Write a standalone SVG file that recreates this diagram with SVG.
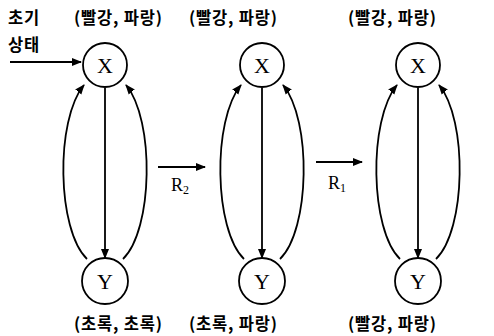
<svg xmlns="http://www.w3.org/2000/svg" width="494" height="336" viewBox="0 0 494 336">
<defs>
<style>
.node circle{fill:#fff;stroke:#000;stroke-width:1.8}
.node text{font-family:"Liberation Serif",serif;font-size:22px;text-anchor:middle}
.lbl{font-family:"Noto Sans CJK KR",sans-serif;font-size:16.5px;font-weight:bold;letter-spacing:0.8px}
.edge{fill:none;stroke:#000;stroke-width:1.8}
.rl{font-family:"Liberation Serif",serif;font-size:18px}
</style>
<marker id="ah" viewBox="0 0 10 10" refX="9" refY="5" markerWidth="10" markerHeight="10" markerUnits="userSpaceOnUse" orient="auto">
<path d="M0,1 L10,5 L0,9 Z" fill="#000"/>
</marker>
</defs>
<rect width="494" height="336" fill="#fff"/>
<g id="labels">
<text class="lbl" x="8" y="24">초기</text>
<text class="lbl" x="8" y="51">상태</text>
<text class="lbl" x="74" y="24">(빨강, 파랑)</text>
<text class="lbl" x="189" y="24">(빨강, 파랑)</text>
<text class="lbl" x="348" y="24">(빨강, 파랑)</text>
<text class="lbl" x="74" y="330">(초록, 초록)</text>
<text class="lbl" x="189" y="330">(초록, 파랑)</text>
<text class="lbl" x="348" y="330">(빨강, 파랑)</text>
<text class="rl" x="171" y="191">R<tspan font-size="12" dy="3">2</tspan></text>
<text class="rl" x="328" y="189">R<tspan font-size="12" dy="3">1</tspan></text>
</g>
<g id="connectors">
<path class="edge" d="M10,62 L81,62" marker-end="url(#ah)"/>
<path class="edge" d="M158,167 L205,167" marker-end="url(#ah)"/>
<path class="edge" d="M316,162 L362,162" marker-end="url(#ah)"/>
<path class="edge" d="M105,88 L105,258" marker-end="url(#ah)"/>
<path class="edge" d="M87,259 C57,230 55,120 84,85" marker-end="url(#ah)"/>
<path class="edge" d="M123,259 C153,230 155,120 126,85" marker-end="url(#ah)"/>
<path class="edge" d="M262,88 L262,258" marker-end="url(#ah)"/>
<path class="edge" d="M244,259 C214,230 212,120 241,85" marker-end="url(#ah)"/>
<path class="edge" d="M280,259 C310,230 312,120 283,85" marker-end="url(#ah)"/>
<path class="edge" d="M418,88 L418,258" marker-end="url(#ah)"/>
<path class="edge" d="M400,259 C370,230 368,120 397,85" marker-end="url(#ah)"/>
<path class="edge" d="M436,259 C466,230 468,120 439,85" marker-end="url(#ah)"/>
</g>
<g id="X1" class="node"><circle cx="105" cy="65" r="22"/><text x="105" y="73">X</text></g>
<g id="Y1" class="node"><circle cx="105" cy="281" r="23"/><text x="105" y="289">Y</text></g>
<g id="X2" class="node"><circle cx="262" cy="65" r="22"/><text x="262" y="73">X</text></g>
<g id="Y2" class="node"><circle cx="262" cy="281" r="23"/><text x="262" y="289">Y</text></g>
<g id="X3" class="node"><circle cx="418" cy="65" r="22"/><text x="418" y="73">X</text></g>
<g id="Y3" class="node"><circle cx="418" cy="281" r="23"/><text x="418" y="289">Y</text></g>
</svg>
